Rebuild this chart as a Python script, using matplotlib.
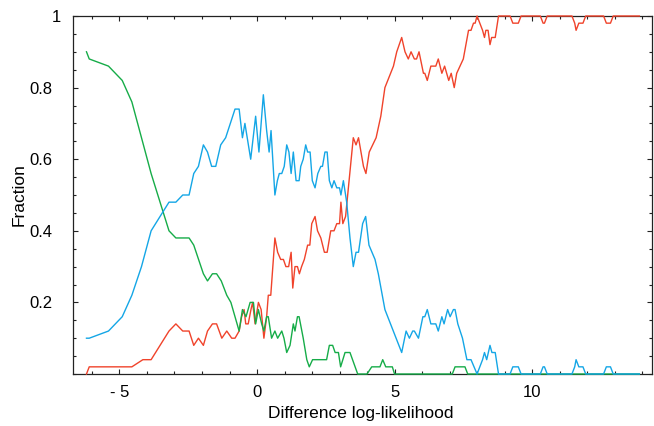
import matplotlib
matplotlib.use("Agg")
import matplotlib.pyplot as plt
from matplotlib.ticker import MultipleLocator, FixedLocator
from matplotlib.transforms import ScaledTranslation

plt.rcParams['font.family'] = ['Liberation Sans', 'DejaVu Sans']

# red series
red_x = [-6.2, -6.1, -4.55, -4.15, -3.85, -3.2, -2.95, -2.7, -2.47, -2.3, -2.13, -1.95, -1.8,
         -1.62, -1.47, -1.28, -1.1, -0.92, -0.8, -0.65, -0.56, -0.47, -0.41, -0.32, -0.22, -0.16,
         -0.07, 0.05, 0.15, 0.25, 0.35, 0.41, 0.5, 0.65, 0.75, 0.86, 0.96, 1.05, 1.15, 1.24, 1.3,
         1.38, 1.47, 1.54, 1.62, 1.72, 1.84, 1.92, 1.99, 2.11, 2.2, 2.32, 2.45, 2.55, 2.68, 2.8,
         2.9, 3.0, 3.05, 3.12, 3.22, 3.5, 3.6, 3.69, 3.87, 3.96, 4.08, 4.33, 4.5, 4.65, 4.96,
         5.08, 5.26, 5.38, 5.5, 5.6, 5.72, 5.8, 5.89, 6.05, 6.1, 6.19, 6.32, 6.5, 6.59, 6.72,
         6.82, 6.97, 7.06, 7.17, 7.26, 7.38, 7.5, 7.69, 7.78, 7.87, 7.93, 8.0, 8.1, 8.2, 8.27,
         8.32, 8.4, 8.47, 8.53, 8.66, 8.78, 9.2, 9.3, 9.5, 9.6, 10.3, 10.4, 10.45, 10.55, 11.45,
         11.55, 11.6, 11.7, 11.85, 11.95, 12.6, 12.7, 12.85, 12.95, 13.9]
red_y = [0.0, 0.02, 0.02, 0.04, 0.04, 0.12, 0.14, 0.12, 0.12, 0.08, 0.10, 0.08, 0.12,
         0.14, 0.14, 0.10, 0.12, 0.10, 0.10, 0.12, 0.16, 0.18, 0.14, 0.14, 0.18, 0.20,
         0.14, 0.20, 0.18, 0.10, 0.16, 0.22, 0.22, 0.38, 0.34, 0.32, 0.32, 0.30, 0.30, 0.34, 0.24,
         0.30, 0.30, 0.28, 0.30, 0.32, 0.36, 0.36, 0.42, 0.44, 0.40, 0.38, 0.34, 0.34, 0.40, 0.40,
         0.42, 0.42, 0.48, 0.42, 0.44, 0.66, 0.64, 0.66, 0.58, 0.56, 0.62, 0.66, 0.72, 0.80, 0.86,
         0.90, 0.94, 0.90, 0.88, 0.90, 0.88, 0.88, 0.90, 0.84, 0.84, 0.82, 0.86, 0.86, 0.88, 0.84,
         0.86, 0.82, 0.84, 0.80, 0.84, 0.86, 0.88, 0.96, 0.96, 0.98, 0.98, 1.0, 0.98, 0.96, 0.94,
         0.96, 0.96, 0.92, 0.94, 0.94, 1.0, 1.0, 0.98, 0.98, 1.0, 1.0, 0.98, 0.98, 1.0, 1.0,
         0.98, 0.96, 0.98, 0.98, 1.0, 1.0, 0.98, 0.98, 1.0, 1.0]

# blue series
blue_x = [-6.2, -6.1, -5.4, -4.9, -4.55, -4.2, -3.85, -3.2, -2.95, -2.7, -2.47, -2.3, -2.13,
          -1.95, -1.8, -1.65, -1.5, -1.32, -1.14, -0.8, -0.65, -0.53, -0.44, -0.23, -0.05, 0.07,
          0.23, 0.35, 0.44, 0.51, 0.65, 0.74, 0.81, 0.9, 0.99, 1.08, 1.16, 1.24, 1.32, 1.42,
          1.53, 1.59, 1.68, 1.77, 1.84, 1.93, 2.01, 2.11, 2.21, 2.32, 2.38, 2.47, 2.55, 2.63,
          2.72, 2.8, 2.9, 3.0, 3.05, 3.14, 3.26, 3.38, 3.5, 3.6, 3.69, 3.84, 3.95, 4.07, 4.29,
          4.41, 4.65, 5.26, 5.42, 5.54, 5.66, 5.72, 5.87, 6.03, 6.1, 6.19, 6.32, 6.5, 6.59,
          6.72, 6.8, 6.93, 7.02, 7.14, 7.2, 7.3, 7.47, 7.63, 7.78, 7.89, 8.0, 8.2, 8.27, 8.35,
          8.47, 8.54, 8.66, 8.78, 9.2, 9.3, 9.5, 9.6, 10.3, 10.4, 10.45, 10.55, 11.45, 11.55,
          11.6, 11.7, 11.85, 11.95, 12.6, 12.7, 12.85, 12.95, 13.9]
blue_y = [0.10, 0.10, 0.12, 0.16, 0.22, 0.30, 0.40, 0.48, 0.48, 0.50, 0.50, 0.56, 0.58,
          0.64, 0.62, 0.58, 0.58, 0.64, 0.66, 0.74, 0.74, 0.66, 0.70, 0.60, 0.72, 0.62,
          0.78, 0.68, 0.62, 0.68, 0.50, 0.54, 0.56, 0.56, 0.58, 0.64, 0.62, 0.56, 0.62, 0.54,
          0.54, 0.58, 0.60, 0.64, 0.62, 0.62, 0.54, 0.52, 0.56, 0.58, 0.58, 0.62, 0.62, 0.54,
          0.52, 0.54, 0.52, 0.52, 0.50, 0.54, 0.48, 0.38, 0.30, 0.34, 0.34, 0.42, 0.44, 0.36, 0.32,
          0.28, 0.18, 0.06, 0.12, 0.10, 0.12, 0.12, 0.10, 0.16, 0.16, 0.18, 0.14, 0.14, 0.12,
          0.16, 0.14, 0.18, 0.16, 0.18, 0.18, 0.14, 0.10, 0.04, 0.04, 0.02, 0.0, 0.04, 0.06, 0.04,
          0.08, 0.06, 0.06, 0.0, 0.0, 0.02, 0.02, 0.0, 0.0, 0.02, 0.02, 0.0, 0.0, 0.02,
          0.04, 0.02, 0.02, 0.0, 0.0, 0.02, 0.02, 0.0, 0.0]

# green series
green_x = [-6.2, -6.1, -5.4, -4.9, -4.55, -4.2, -3.85, -3.2, -2.95, -2.47, -2.3, -1.95, -1.8,
           -1.62, -1.47, -1.3, -1.1, -0.95, -0.65, -0.53, -0.4, -0.25, -0.13, -0.05, 0.05, 0.17,
           0.25, 0.35, 0.41, 0.53, 0.65, 0.75, 0.9, 0.98, 1.08, 1.2, 1.32, 1.38, 1.47, 1.53,
           1.68, 1.81, 1.9, 2.02, 2.53, 2.63, 2.75, 2.84, 2.96, 3.04, 3.2, 3.38, 3.66, 4.0,
           4.17, 4.47, 4.57, 4.68, 4.92, 5.0, 7.1, 7.2, 7.56, 7.66, 13.9]
green_y = [0.90, 0.88, 0.86, 0.82, 0.76, 0.66, 0.56, 0.40, 0.38, 0.38, 0.36, 0.28, 0.26,
           0.28, 0.28, 0.26, 0.22, 0.20, 0.12, 0.18, 0.16, 0.20, 0.20, 0.14, 0.18, 0.14,
           0.12, 0.16, 0.16, 0.10, 0.12, 0.10, 0.12, 0.10, 0.06, 0.08, 0.14, 0.12, 0.16, 0.16,
           0.10, 0.04, 0.02, 0.04, 0.04, 0.08, 0.08, 0.06, 0.06, 0.02, 0.06, 0.06, 0.0, 0.0,
           0.02, 0.02, 0.04, 0.02, 0.02, 0.0, 0.0, 0.02, 0.02, 0.0, 0.0]

x_ticks = [-5, 0, 5, 10]
x_tick_labels = ['- 5', '0', '5', '10']
y_ticks = [0.2, 0.4, 0.6, 0.8, 1.0]
y_tick_labels = ['0.2', '0.4', '0.6', '0.8', '1']

fig = plt.figure(figsize=(6.54, 4.26), dpi=100)
ax = fig.add_axes([73 / 654, 1 - 374 / 426, 579 / 654, 358 / 426])

ax.plot(red_x, red_y, color='#f0432b', lw=1.0, zorder=3, clip_on=False)
ax.plot(green_x, green_y, color='#16ac48', lw=1.0, zorder=3, clip_on=False)
ax.plot(blue_x, blue_y, color='#14a6e6', lw=1.0, zorder=3, clip_on=False)

ax.set_xlim(-6.69, 14.36)
ax.set_ylim(0, 1)
ax.xaxis.set_major_locator(FixedLocator(x_ticks))
ax.set_xticklabels(x_tick_labels)
ax.xaxis.set_minor_locator(MultipleLocator(1))
ax.yaxis.set_major_locator(FixedLocator(y_ticks))
ax.set_yticklabels(y_tick_labels)
ax.yaxis.set_minor_locator(MultipleLocator(0.05))

ax.tick_params(which='both', direction='in', top=True, right=True, width=0.8,
               color='#222222', labelsize=12)
ax.tick_params(which='major', length=3.5)
ax.tick_params(which='minor', length=2.5)
ax.tick_params(axis='x', which='major', pad=8)
ax.tick_params(axis='y', which='major', pad=15)
for s in ax.spines.values():
    s.set_linewidth(0.9)
    s.set_color('#222222')

# the "1" label sits further right in the original
lab1 = ax.get_yticklabels()[-1]
lab1.set_transform(lab1.get_transform() + ScaledTranslation(0.09, 0, fig.dpi_scale_trans))

ax.set_xlabel('Difference log-likelihood', fontsize=12.5)
ax.set_ylabel('Fraction', fontsize=12.5)
ax.xaxis.set_label_coords(0.497, -0.088)
ax.yaxis.set_label_coords(-0.08, 0.5)

fig.savefig('out.png', dpi=100)
